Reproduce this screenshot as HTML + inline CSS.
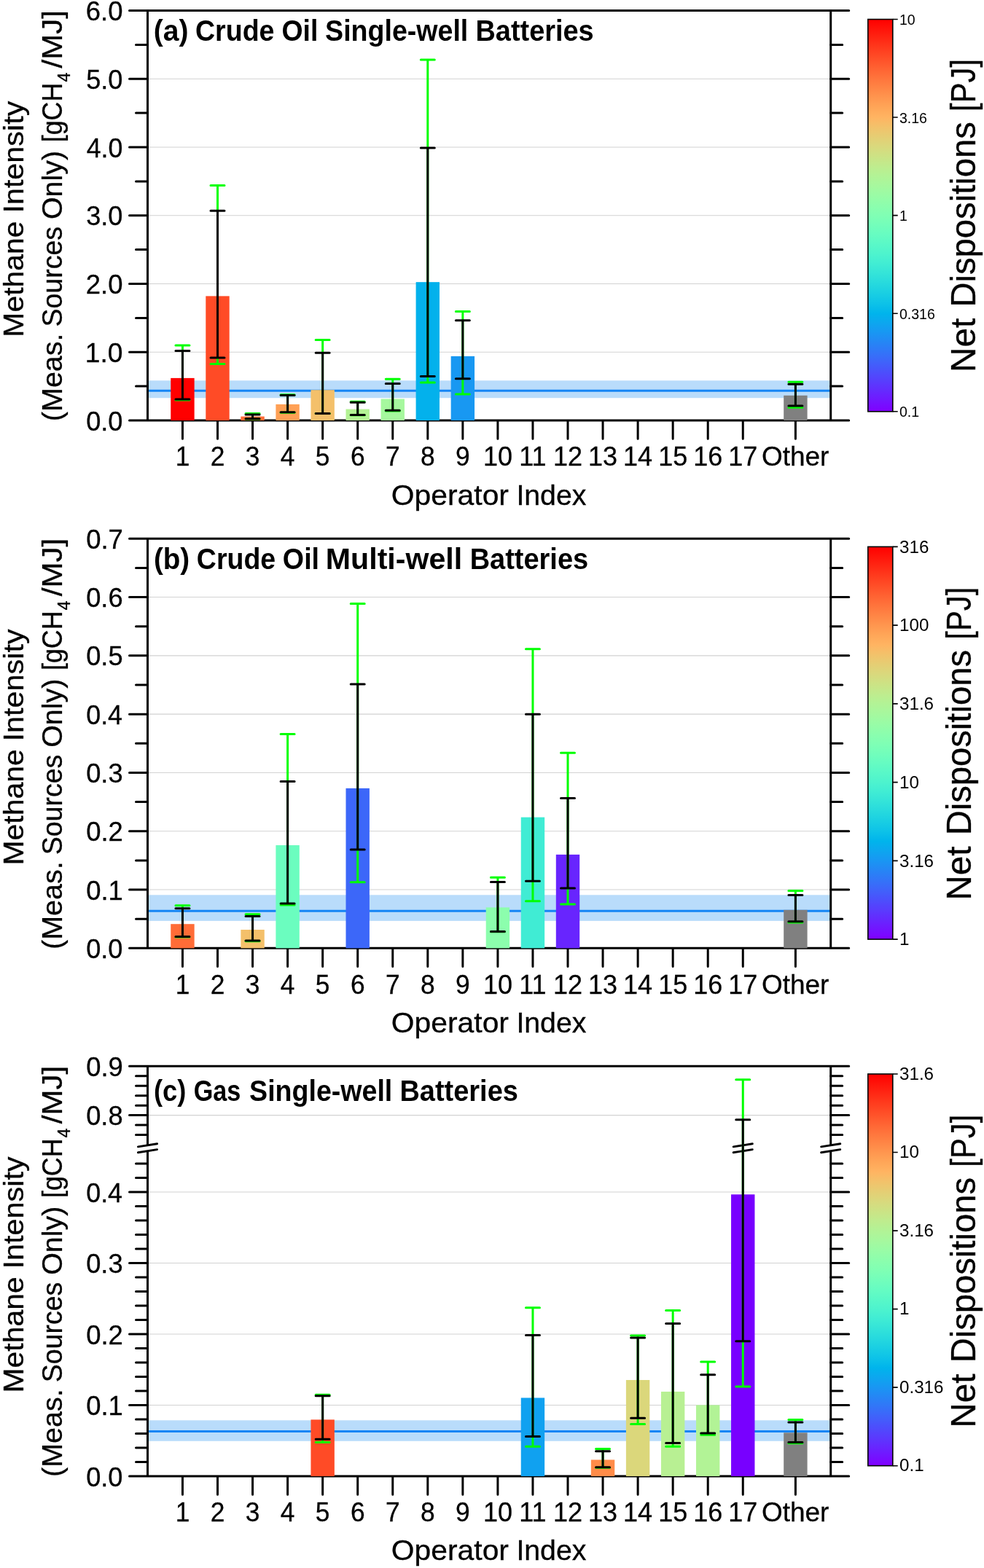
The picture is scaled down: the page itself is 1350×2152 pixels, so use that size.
<!DOCTYPE html>
<html><head><meta charset="utf-8"><title>Methane intensity by operator</title>
<style>html,body{margin:0;padding:0;background:#fff}svg{display:block}</style></head>
<body><svg width="1350" height="2152" viewBox="0 0 1350 2152">
<rect width="1350" height="2152" fill="#fff"/>
<defs><linearGradient id="rb" x1="0" y1="1" x2="0" y2="0">
<stop offset="0.0000" stop-color="#8000ff"/>
<stop offset="0.0250" stop-color="#7314ff"/>
<stop offset="0.0500" stop-color="#6628fe"/>
<stop offset="0.0750" stop-color="#593cfd"/>
<stop offset="0.1000" stop-color="#4c4ffc"/>
<stop offset="0.1250" stop-color="#4062fa"/>
<stop offset="0.1500" stop-color="#3374f8"/>
<stop offset="0.1750" stop-color="#2685f5"/>
<stop offset="0.2000" stop-color="#1996f3"/>
<stop offset="0.2250" stop-color="#0da6ef"/>
<stop offset="0.2500" stop-color="#00b4ec"/>
<stop offset="0.2750" stop-color="#0dc2e8"/>
<stop offset="0.3000" stop-color="#19cee3"/>
<stop offset="0.3250" stop-color="#26d9de"/>
<stop offset="0.3500" stop-color="#33e3d9"/>
<stop offset="0.3750" stop-color="#40ecd4"/>
<stop offset="0.4000" stop-color="#4df3ce"/>
<stop offset="0.4250" stop-color="#59f8c8"/>
<stop offset="0.4500" stop-color="#66fcc2"/>
<stop offset="0.4750" stop-color="#73febb"/>
<stop offset="0.5000" stop-color="#80ffb4"/>
<stop offset="0.5250" stop-color="#8cfead"/>
<stop offset="0.5500" stop-color="#99fca6"/>
<stop offset="0.5750" stop-color="#a6f89e"/>
<stop offset="0.6000" stop-color="#b2f396"/>
<stop offset="0.6250" stop-color="#bfec8e"/>
<stop offset="0.6500" stop-color="#cce385"/>
<stop offset="0.6750" stop-color="#d9d97d"/>
<stop offset="0.7000" stop-color="#e5ce74"/>
<stop offset="0.7250" stop-color="#f2c26b"/>
<stop offset="0.7500" stop-color="#ffb462"/>
<stop offset="0.7750" stop-color="#ffa658"/>
<stop offset="0.8000" stop-color="#ff964f"/>
<stop offset="0.8250" stop-color="#ff8545"/>
<stop offset="0.8500" stop-color="#ff743c"/>
<stop offset="0.8750" stop-color="#ff6232"/>
<stop offset="0.9000" stop-color="#ff4f28"/>
<stop offset="0.9250" stop-color="#ff3c1e"/>
<stop offset="0.9500" stop-color="#ff2814"/>
<stop offset="0.9750" stop-color="#ff140a"/>
<stop offset="1.0000" stop-color="#ff0000"/>
</linearGradient></defs>
<line x1="202.5" y1="483.25" x2="1139.7" y2="483.25" stroke="#d2d2d2" stroke-width="1.1"/>
<line x1="202.5" y1="389.5" x2="1139.7" y2="389.5" stroke="#d2d2d2" stroke-width="1.1"/>
<line x1="202.5" y1="295.75" x2="1139.7" y2="295.75" stroke="#d2d2d2" stroke-width="1.1"/>
<line x1="202.5" y1="202" x2="1139.7" y2="202" stroke="#d2d2d2" stroke-width="1.1"/>
<line x1="202.5" y1="108.25" x2="1139.7" y2="108.25" stroke="#d2d2d2" stroke-width="1.1"/>
<rect x="202.5" y="522.3" width="937.2" height="23.9" fill="#b9dcfb"/>
<line x1="202.5" y1="536.2" x2="1139.7" y2="536.2" stroke="#1585f5" stroke-width="3"/>
<path d="M202.5 14.5V577M1139.7 14.5V577" stroke="#000" stroke-width="3" fill="none"/>
<path d="M177.5 577H1164.7M177.5 483.25H202.5M1139.7 483.25H1164.7M177.5 389.5H202.5M1139.7 389.5H1164.7M177.5 295.75H202.5M1139.7 295.75H1164.7M177.5 202H202.5M1139.7 202H1164.7M177.5 108.25H202.5M1139.7 108.25H1164.7M177.5 14.5H1164.7M186.5 530.12H202.5M1139.7 530.12H1155.7M186.5 436.38H202.5M1139.7 436.38H1155.7M186.5 342.62H202.5M1139.7 342.62H1155.7M186.5 248.88H202.5M1139.7 248.88H1155.7M186.5 155.12H202.5M1139.7 155.12H1155.7M186.5 61.38H202.5M1139.7 61.38H1155.7M250.45 577V602.3M298.5 577V602.3M346.55 577V602.3M394.6 577V602.3M442.65 577V602.3M490.7 577V602.3M538.75 577V602.3M586.8 577V602.3M634.85 577V602.3M682.9 577V602.3M730.95 577V602.3M779 577V602.3M827.05 577V602.3M875.1 577V602.3M923.15 577V602.3M971.2 577V602.3M1019.25 577V602.3M1091.4 577V602.3" stroke="#000" stroke-width="3" stroke-linecap="round" fill="none"/>
<rect x="234.25" y="518.88" width="32.4" height="58.12" fill="#ff0000"/>
<rect x="282.3" y="406.38" width="32.4" height="170.62" fill="#ff4b26"/>
<rect x="330.35" y="571.56" width="32.4" height="5.44" fill="#ff6c37"/>
<rect x="378.4" y="554.88" width="32.4" height="22.12" fill="#ffa055"/>
<rect x="426.45" y="535.19" width="32.4" height="41.81" fill="#f4c06a"/>
<rect x="474.5" y="561.53" width="32.4" height="15.47" fill="#b4f295"/>
<rect x="522.55" y="547.56" width="32.4" height="29.44" fill="#a6f89e"/>
<rect x="570.6" y="387.16" width="32.4" height="189.84" fill="#03b1ec"/>
<rect x="618.65" y="488.88" width="32.4" height="88.12" fill="#1898f2"/>
<rect x="1075.2" y="542.78" width="32.4" height="34.22" fill="#808080"/>
<path d="M250.45 548.88V473.88M240.95 548.88H259.95M240.95 473.88H259.95" stroke="#00ff00" stroke-width="3" stroke-linecap="round" fill="none"/>
<path d="M250.45 547.94V481.38M240.95 547.94H259.95M240.95 481.38H259.95" stroke="#000" stroke-width="3" stroke-linecap="round" fill="none"/>
<path d="M298.5 499.56V254.5M289 499.56H308M289 254.5H308" stroke="#00ff00" stroke-width="3" stroke-linecap="round" fill="none"/>
<path d="M298.5 491.03V289.19M289 491.03H308M289 289.19H308" stroke="#000" stroke-width="3" stroke-linecap="round" fill="none"/>
<path d="M346.55 574.94V567.62M337.05 574.94H356.05M337.05 567.62H356.05" stroke="#00ff00" stroke-width="3" stroke-linecap="round" fill="none"/>
<path d="M346.55 574.66V568.94M337.05 574.66H356.05M337.05 568.94H356.05" stroke="#000" stroke-width="3" stroke-linecap="round" fill="none"/>
<path d="M394.6 566.22V541.84M385.1 566.22H404.1M385.1 541.84H404.1" stroke="#00ff00" stroke-width="3" stroke-linecap="round" fill="none"/>
<path d="M394.6 565.75V542.59M385.1 565.75H404.1M385.1 542.59H404.1" stroke="#000" stroke-width="3" stroke-linecap="round" fill="none"/>
<path d="M442.65 567.62V466.38M433.15 567.62H452.15M433.15 466.38H452.15" stroke="#00ff00" stroke-width="3" stroke-linecap="round" fill="none"/>
<path d="M442.65 567.62V484.19M433.15 567.62H452.15M433.15 484.19H452.15" stroke="#000" stroke-width="3" stroke-linecap="round" fill="none"/>
<path d="M490.7 569.69V551.22M481.2 569.69H500.2M481.2 551.22H500.2" stroke="#00ff00" stroke-width="3" stroke-linecap="round" fill="none"/>
<path d="M490.7 569.5V552.16M481.2 569.5H500.2M481.2 552.16H500.2" stroke="#000" stroke-width="3" stroke-linecap="round" fill="none"/>
<path d="M538.75 563.88V520.19M529.25 563.88H548.25M529.25 520.19H548.25" stroke="#00ff00" stroke-width="3" stroke-linecap="round" fill="none"/>
<path d="M538.75 563.31V526.56M529.25 563.31H548.25M529.25 526.56H548.25" stroke="#000" stroke-width="3" stroke-linecap="round" fill="none"/>
<path d="M586.8 524.88V82M577.3 524.88H596.3M577.3 82H596.3" stroke="#00ff00" stroke-width="3" stroke-linecap="round" fill="none"/>
<path d="M586.8 516.62V202.94M577.3 516.62H596.3M577.3 202.94H596.3" stroke="#000" stroke-width="3" stroke-linecap="round" fill="none"/>
<path d="M634.85 540.91V427.38M625.35 540.91H644.35M625.35 427.38H644.35" stroke="#00ff00" stroke-width="3" stroke-linecap="round" fill="none"/>
<path d="M634.85 519.81V439.84M625.35 519.81H644.35M625.35 439.84H644.35" stroke="#000" stroke-width="3" stroke-linecap="round" fill="none"/>
<path d="M1091.4 559.19V524.22M1081.9 559.19H1100.9M1081.9 524.22H1100.9" stroke="#00ff00" stroke-width="3" stroke-linecap="round" fill="none"/>
<path d="M1091.4 556.94V527.31M1081.9 556.94H1100.9M1081.9 527.31H1100.9" stroke="#000" stroke-width="3" stroke-linecap="round" fill="none"/>
<text font-family="Liberation Sans, sans-serif" stroke="#000" stroke-width="0.3" font-size="37.2"><tspan x="118.19" y="590.50" textLength="50.22" lengthAdjust="spacingAndGlyphs">0.0</tspan></text>
<text font-family="Liberation Sans, sans-serif" stroke="#000" stroke-width="0.3" font-size="37.2"><tspan x="116.77" y="496.75" textLength="51.68" lengthAdjust="spacingAndGlyphs">1.0</tspan></text>
<text font-family="Liberation Sans, sans-serif" stroke="#000" stroke-width="0.3" font-size="37.2"><tspan x="117.77" y="403.00" textLength="50.66" lengthAdjust="spacingAndGlyphs">2.0</tspan></text>
<text font-family="Liberation Sans, sans-serif" stroke="#000" stroke-width="0.3" font-size="37.2"><tspan x="118.23" y="309.25" textLength="50.19" lengthAdjust="spacingAndGlyphs">3.0</tspan></text>
<text font-family="Liberation Sans, sans-serif" stroke="#000" stroke-width="0.3" font-size="37.2"><tspan x="118.78" y="215.50" textLength="49.61" lengthAdjust="spacingAndGlyphs">4.0</tspan></text>
<text font-family="Liberation Sans, sans-serif" stroke="#000" stroke-width="0.3" font-size="37.2"><tspan x="118.15" y="121.75" textLength="50.26" lengthAdjust="spacingAndGlyphs">5.0</tspan></text>
<text font-family="Liberation Sans, sans-serif" stroke="#000" stroke-width="0.3" font-size="37.2"><tspan x="117.75" y="28.00" textLength="50.68" lengthAdjust="spacingAndGlyphs">6.0</tspan></text>
<text x="250.45" y="639.3" text-anchor="middle" font-family="Liberation Sans, sans-serif" font-size="37.2" textLength="19.65" lengthAdjust="spacingAndGlyphs" stroke="#000" stroke-width="0.3">1</text>
<text x="298.5" y="639.3" text-anchor="middle" font-family="Liberation Sans, sans-serif" font-size="37.2" textLength="19.65" lengthAdjust="spacingAndGlyphs" stroke="#000" stroke-width="0.3">2</text>
<text x="346.55" y="639.3" text-anchor="middle" font-family="Liberation Sans, sans-serif" font-size="37.2" textLength="19.65" lengthAdjust="spacingAndGlyphs" stroke="#000" stroke-width="0.3">3</text>
<text x="394.6" y="639.3" text-anchor="middle" font-family="Liberation Sans, sans-serif" font-size="37.2" textLength="19.65" lengthAdjust="spacingAndGlyphs" stroke="#000" stroke-width="0.3">4</text>
<text x="442.65" y="639.3" text-anchor="middle" font-family="Liberation Sans, sans-serif" font-size="37.2" textLength="19.65" lengthAdjust="spacingAndGlyphs" stroke="#000" stroke-width="0.3">5</text>
<text x="490.7" y="639.3" text-anchor="middle" font-family="Liberation Sans, sans-serif" font-size="37.2" textLength="19.65" lengthAdjust="spacingAndGlyphs" stroke="#000" stroke-width="0.3">6</text>
<text x="538.75" y="639.3" text-anchor="middle" font-family="Liberation Sans, sans-serif" font-size="37.2" textLength="19.65" lengthAdjust="spacingAndGlyphs" stroke="#000" stroke-width="0.3">7</text>
<text x="586.8" y="639.3" text-anchor="middle" font-family="Liberation Sans, sans-serif" font-size="37.2" textLength="19.65" lengthAdjust="spacingAndGlyphs" stroke="#000" stroke-width="0.3">8</text>
<text x="634.85" y="639.3" text-anchor="middle" font-family="Liberation Sans, sans-serif" font-size="37.2" textLength="19.65" lengthAdjust="spacingAndGlyphs" stroke="#000" stroke-width="0.3">9</text>
<text x="682.9" y="639.3" text-anchor="middle" font-family="Liberation Sans, sans-serif" font-size="37.2" textLength="40.05" lengthAdjust="spacingAndGlyphs" stroke="#000" stroke-width="0.3">10</text>
<text x="730.95" y="639.3" text-anchor="middle" font-family="Liberation Sans, sans-serif" font-size="37.2" textLength="37.38" lengthAdjust="spacingAndGlyphs" stroke="#000" stroke-width="0.3">11</text>
<text x="779" y="639.3" text-anchor="middle" font-family="Liberation Sans, sans-serif" font-size="37.2" textLength="40.05" lengthAdjust="spacingAndGlyphs" stroke="#000" stroke-width="0.3">12</text>
<text x="827.05" y="639.3" text-anchor="middle" font-family="Liberation Sans, sans-serif" font-size="37.2" textLength="40.05" lengthAdjust="spacingAndGlyphs" stroke="#000" stroke-width="0.3">13</text>
<text x="875.1" y="639.3" text-anchor="middle" font-family="Liberation Sans, sans-serif" font-size="37.2" textLength="40.05" lengthAdjust="spacingAndGlyphs" stroke="#000" stroke-width="0.3">14</text>
<text x="923.15" y="639.3" text-anchor="middle" font-family="Liberation Sans, sans-serif" font-size="37.2" textLength="40.05" lengthAdjust="spacingAndGlyphs" stroke="#000" stroke-width="0.3">15</text>
<text x="971.2" y="639.3" text-anchor="middle" font-family="Liberation Sans, sans-serif" font-size="37.2" textLength="40.05" lengthAdjust="spacingAndGlyphs" stroke="#000" stroke-width="0.3">16</text>
<text x="1019.25" y="639.3" text-anchor="middle" font-family="Liberation Sans, sans-serif" font-size="37.2" textLength="40.05" lengthAdjust="spacingAndGlyphs" stroke="#000" stroke-width="0.3">17</text>
<text font-family="Liberation Sans, sans-serif" stroke="#000" stroke-width="0.3" font-size="37.2"><tspan x="1044.95" y="639.30" textLength="92.46" lengthAdjust="spacingAndGlyphs">Other</tspan></text>
<text font-family="Liberation Sans, sans-serif" stroke="#000" stroke-width="0.3" font-size="39.3"><tspan x="536.77" y="692.80" textLength="161.21" lengthAdjust="spacingAndGlyphs">Operator</tspan> <tspan x="708.38" y="692.80" textLength="96.05" lengthAdjust="spacingAndGlyphs">Index</tspan></text>
<text font-family="Liberation Sans, sans-serif" font-weight="bold" font-size="40.4"><tspan x="210.85" y="56.30" textLength="47.80" lengthAdjust="spacingAndGlyphs">(a)</tspan> <tspan x="267.96" y="56.30" textLength="108.52" lengthAdjust="spacingAndGlyphs">Crude</tspan> <tspan x="386.47" y="56.30" textLength="49.88" lengthAdjust="spacingAndGlyphs">Oil</tspan> <tspan x="446.12" y="56.30" textLength="196.14" lengthAdjust="spacingAndGlyphs">Single-well</tspan> <tspan x="652.46" y="56.30" textLength="162.19" lengthAdjust="spacingAndGlyphs">Batteries</tspan></text>
<text transform="translate(32.40 0) rotate(-90)" font-family="Liberation Sans, sans-serif" stroke="#000" stroke-width="0.3" font-size="39.3"><tspan x="-462.65" y="0.00" textLength="159.07" lengthAdjust="spacingAndGlyphs">Methane</tspan> <tspan x="-292.62" y="0.00" textLength="154.00" lengthAdjust="spacingAndGlyphs">Intensity</tspan></text>
<text transform="translate(85.00 0) rotate(-90)" font-family="Liberation Sans, sans-serif" stroke="#000" stroke-width="0.3" font-size="39.3"><tspan x="-578.15" y="0.00" textLength="120.65" lengthAdjust="spacingAndGlyphs">(Meas.</tspan> <tspan x="-448.50" y="0.00" textLength="137.56" lengthAdjust="spacingAndGlyphs">Sources</tspan> <tspan x="-301.07" y="0.00" textLength="94.21" lengthAdjust="spacingAndGlyphs">Only)</tspan> <tspan x="-195.25" y="0.00" textLength="81.57" lengthAdjust="spacingAndGlyphs">[gCH</tspan><tspan x="-112.63" y="11.00" font-size="23" textLength="12.91" lengthAdjust="spacingAndGlyphs">4</tspan><tspan x="-93.40" y="0.00" textLength="79.40" lengthAdjust="spacingAndGlyphs">/MJ]</tspan></text>
<rect x="1190.8" y="26.5" width="34.0" height="538.3" fill="url(#rb)" stroke="#000" stroke-width="1.6"/>
<text x="1234" y="34.18" font-family="Liberation Sans, sans-serif" font-size="19.5">10</text>
<text x="1234" y="168.76" font-family="Liberation Sans, sans-serif" font-size="19.5">3.16</text>
<text x="1234" y="303.33" font-family="Liberation Sans, sans-serif" font-size="19.5">1</text>
<text x="1234" y="437.91" font-family="Liberation Sans, sans-serif" font-size="19.5">0.316</text>
<text x="1234" y="572.48" font-family="Liberation Sans, sans-serif" font-size="19.5">0.1</text>
<path d="M1224.8 26.5H1231.7M1224.8 161.07H1231.7M1224.8 295.65H1231.7M1224.8 430.22H1231.7M1224.8 564.8H1231.7" stroke="#000" stroke-width="1.6" fill="none"/>
<text transform="translate(1338.00 0) rotate(-90)" font-family="Liberation Sans, sans-serif" stroke="#000" stroke-width="0.3" font-size="47.3"><tspan x="-510.91" y="0.00" textLength="74.26" lengthAdjust="spacingAndGlyphs">Net</tspan> <tspan x="-421.57" y="0.00" textLength="254.38" lengthAdjust="spacingAndGlyphs">Dispositions</tspan> <tspan x="-152.88" y="0.00" textLength="71.96" lengthAdjust="spacingAndGlyphs">[PJ]</tspan></text>
<line x1="202.5" y1="1221.05" x2="1139.7" y2="1221.05" stroke="#d2d2d2" stroke-width="1.1"/>
<line x1="202.5" y1="1140.75" x2="1139.7" y2="1140.75" stroke="#d2d2d2" stroke-width="1.1"/>
<line x1="202.5" y1="1060.45" x2="1139.7" y2="1060.45" stroke="#d2d2d2" stroke-width="1.1"/>
<line x1="202.5" y1="980.15" x2="1139.7" y2="980.15" stroke="#d2d2d2" stroke-width="1.1"/>
<line x1="202.5" y1="899.85" x2="1139.7" y2="899.85" stroke="#d2d2d2" stroke-width="1.1"/>
<line x1="202.5" y1="819.55" x2="1139.7" y2="819.55" stroke="#d2d2d2" stroke-width="1.1"/>
<rect x="202.5" y="1228.3" width="937.2" height="35.6" fill="#b9dcfb"/>
<line x1="202.5" y1="1250.2" x2="1139.7" y2="1250.2" stroke="#1585f5" stroke-width="3"/>
<path d="M202.5 739.3V1301.3M1139.7 739.3V1301.3" stroke="#000" stroke-width="3" fill="none"/>
<path d="M177.5 1301.35H1164.7M177.5 1221.05H202.5M1139.7 1221.05H1164.7M177.5 1140.75H202.5M1139.7 1140.75H1164.7M177.5 1060.45H202.5M1139.7 1060.45H1164.7M177.5 980.15H202.5M1139.7 980.15H1164.7M177.5 899.85H202.5M1139.7 899.85H1164.7M177.5 819.55H202.5M1139.7 819.55H1164.7M177.5 739.25H1164.7M186.5 1261.2H202.5M1139.7 1261.2H1155.7M186.5 1180.9H202.5M1139.7 1180.9H1155.7M186.5 1100.6H202.5M1139.7 1100.6H1155.7M186.5 1020.3H202.5M1139.7 1020.3H1155.7M186.5 940H202.5M1139.7 940H1155.7M186.5 859.7H202.5M1139.7 859.7H1155.7M186.5 779.4H202.5M1139.7 779.4H1155.7M250.45 1301.3V1326.6M298.5 1301.3V1326.6M346.55 1301.3V1326.6M394.6 1301.3V1326.6M442.65 1301.3V1326.6M490.7 1301.3V1326.6M538.75 1301.3V1326.6M586.8 1301.3V1326.6M634.85 1301.3V1326.6M682.9 1301.3V1326.6M730.95 1301.3V1326.6M779 1301.3V1326.6M827.05 1301.3V1326.6M875.1 1301.3V1326.6M923.15 1301.3V1326.6M971.2 1301.3V1326.6M1019.25 1301.3V1326.6M1091.4 1301.3V1326.6" stroke="#000" stroke-width="3" stroke-linecap="round" fill="none"/>
<rect x="234.25" y="1268.19" width="32.4" height="33.11" fill="#ff6c37"/>
<rect x="330.35" y="1275.98" width="32.4" height="25.32" fill="#f4c06a"/>
<rect x="378.4" y="1160.02" width="32.4" height="141.28" fill="#6bfdbf"/>
<rect x="474.5" y="1081.89" width="32.4" height="219.41" fill="#3c67f9"/>
<rect x="666.7" y="1245.38" width="32.4" height="55.92" fill="#8cfead"/>
<rect x="714.75" y="1121.64" width="32.4" height="179.66" fill="#40ecd4"/>
<rect x="762.8" y="1172.87" width="32.4" height="128.43" fill="#6825fe"/>
<rect x="1075.2" y="1248.83" width="32.4" height="52.47" fill="#808080"/>
<path d="M250.45 1286.09V1242.73M240.95 1286.09H259.95M240.95 1242.73H259.95" stroke="#00ff00" stroke-width="3" stroke-linecap="round" fill="none"/>
<path d="M250.45 1285.53V1246.75M240.95 1285.53H259.95M240.95 1246.75H259.95" stroke="#000" stroke-width="3" stroke-linecap="round" fill="none"/>
<path d="M346.55 1291.71V1254.78M337.05 1291.71H356.05M337.05 1254.78H356.05" stroke="#00ff00" stroke-width="3" stroke-linecap="round" fill="none"/>
<path d="M346.55 1290.91V1257.43M337.05 1290.91H356.05M337.05 1257.43H356.05" stroke="#000" stroke-width="3" stroke-linecap="round" fill="none"/>
<path d="M394.6 1241.93V1007.45M385.1 1241.93H404.1M385.1 1007.45H404.1" stroke="#00ff00" stroke-width="3" stroke-linecap="round" fill="none"/>
<path d="M394.6 1240.08V1072.49M385.1 1240.08H404.1M385.1 1072.49H404.1" stroke="#000" stroke-width="3" stroke-linecap="round" fill="none"/>
<path d="M490.7 1210.85V828.38M481.2 1210.85H500.2M481.2 828.38H500.2" stroke="#00ff00" stroke-width="3" stroke-linecap="round" fill="none"/>
<path d="M490.7 1166.04V938.88M481.2 1166.04H500.2M481.2 938.88H500.2" stroke="#000" stroke-width="3" stroke-linecap="round" fill="none"/>
<path d="M682.9 1278.87V1204.19M673.4 1278.87H692.4M673.4 1204.19H692.4" stroke="#00ff00" stroke-width="3" stroke-linecap="round" fill="none"/>
<path d="M682.9 1278.46V1210.61M673.4 1278.46H692.4M673.4 1210.61H692.4" stroke="#000" stroke-width="3" stroke-linecap="round" fill="none"/>
<path d="M730.95 1236.87V890.86M721.45 1236.87H740.45M721.45 890.86H740.45" stroke="#00ff00" stroke-width="3" stroke-linecap="round" fill="none"/>
<path d="M730.95 1209.25V980.15M721.45 1209.25H740.45M721.45 980.15H740.45" stroke="#000" stroke-width="3" stroke-linecap="round" fill="none"/>
<path d="M779 1240.88V1033.15M769.5 1240.88H788.5M769.5 1033.15H788.5" stroke="#00ff00" stroke-width="3" stroke-linecap="round" fill="none"/>
<path d="M779 1218.88V1095.62M769.5 1218.88H788.5M769.5 1095.62H788.5" stroke="#000" stroke-width="3" stroke-linecap="round" fill="none"/>
<path d="M1091.4 1266.02V1222.42M1081.9 1266.02H1100.9M1081.9 1222.42H1100.9" stroke="#00ff00" stroke-width="3" stroke-linecap="round" fill="none"/>
<path d="M1091.4 1264.81V1228.44M1081.9 1264.81H1100.9M1081.9 1228.44H1100.9" stroke="#000" stroke-width="3" stroke-linecap="round" fill="none"/>
<text font-family="Liberation Sans, sans-serif" stroke="#000" stroke-width="0.3" font-size="37.2"><tspan x="118.19" y="1314.85" textLength="50.22" lengthAdjust="spacingAndGlyphs">0.0</tspan></text>
<text font-family="Liberation Sans, sans-serif" stroke="#000" stroke-width="0.3" font-size="37.2"><tspan x="118.18" y="1234.55" textLength="50.60" lengthAdjust="spacingAndGlyphs">0.1</tspan></text>
<text font-family="Liberation Sans, sans-serif" stroke="#000" stroke-width="0.3" font-size="37.2"><tspan x="118.18" y="1154.25" textLength="50.66" lengthAdjust="spacingAndGlyphs">0.2</tspan></text>
<text font-family="Liberation Sans, sans-serif" stroke="#000" stroke-width="0.3" font-size="37.2"><tspan x="118.18" y="1073.95" textLength="50.41" lengthAdjust="spacingAndGlyphs">0.3</tspan></text>
<text font-family="Liberation Sans, sans-serif" stroke="#000" stroke-width="0.3" font-size="37.2"><tspan x="118.20" y="993.65" textLength="49.85" lengthAdjust="spacingAndGlyphs">0.4</tspan></text>
<text font-family="Liberation Sans, sans-serif" stroke="#000" stroke-width="0.3" font-size="37.2"><tspan x="118.19" y="913.35" textLength="50.33" lengthAdjust="spacingAndGlyphs">0.5</tspan></text>
<text font-family="Liberation Sans, sans-serif" stroke="#000" stroke-width="0.3" font-size="37.2"><tspan x="118.18" y="833.05" textLength="50.41" lengthAdjust="spacingAndGlyphs">0.6</tspan></text>
<text font-family="Liberation Sans, sans-serif" stroke="#000" stroke-width="0.3" font-size="37.2"><tspan x="118.18" y="752.75" textLength="50.66" lengthAdjust="spacingAndGlyphs">0.7</tspan></text>
<text x="250.45" y="1363.6" text-anchor="middle" font-family="Liberation Sans, sans-serif" font-size="37.2" textLength="19.65" lengthAdjust="spacingAndGlyphs" stroke="#000" stroke-width="0.3">1</text>
<text x="298.5" y="1363.6" text-anchor="middle" font-family="Liberation Sans, sans-serif" font-size="37.2" textLength="19.65" lengthAdjust="spacingAndGlyphs" stroke="#000" stroke-width="0.3">2</text>
<text x="346.55" y="1363.6" text-anchor="middle" font-family="Liberation Sans, sans-serif" font-size="37.2" textLength="19.65" lengthAdjust="spacingAndGlyphs" stroke="#000" stroke-width="0.3">3</text>
<text x="394.6" y="1363.6" text-anchor="middle" font-family="Liberation Sans, sans-serif" font-size="37.2" textLength="19.65" lengthAdjust="spacingAndGlyphs" stroke="#000" stroke-width="0.3">4</text>
<text x="442.65" y="1363.6" text-anchor="middle" font-family="Liberation Sans, sans-serif" font-size="37.2" textLength="19.65" lengthAdjust="spacingAndGlyphs" stroke="#000" stroke-width="0.3">5</text>
<text x="490.7" y="1363.6" text-anchor="middle" font-family="Liberation Sans, sans-serif" font-size="37.2" textLength="19.65" lengthAdjust="spacingAndGlyphs" stroke="#000" stroke-width="0.3">6</text>
<text x="538.75" y="1363.6" text-anchor="middle" font-family="Liberation Sans, sans-serif" font-size="37.2" textLength="19.65" lengthAdjust="spacingAndGlyphs" stroke="#000" stroke-width="0.3">7</text>
<text x="586.8" y="1363.6" text-anchor="middle" font-family="Liberation Sans, sans-serif" font-size="37.2" textLength="19.65" lengthAdjust="spacingAndGlyphs" stroke="#000" stroke-width="0.3">8</text>
<text x="634.85" y="1363.6" text-anchor="middle" font-family="Liberation Sans, sans-serif" font-size="37.2" textLength="19.65" lengthAdjust="spacingAndGlyphs" stroke="#000" stroke-width="0.3">9</text>
<text x="682.9" y="1363.6" text-anchor="middle" font-family="Liberation Sans, sans-serif" font-size="37.2" textLength="40.05" lengthAdjust="spacingAndGlyphs" stroke="#000" stroke-width="0.3">10</text>
<text x="730.95" y="1363.6" text-anchor="middle" font-family="Liberation Sans, sans-serif" font-size="37.2" textLength="37.38" lengthAdjust="spacingAndGlyphs" stroke="#000" stroke-width="0.3">11</text>
<text x="779" y="1363.6" text-anchor="middle" font-family="Liberation Sans, sans-serif" font-size="37.2" textLength="40.05" lengthAdjust="spacingAndGlyphs" stroke="#000" stroke-width="0.3">12</text>
<text x="827.05" y="1363.6" text-anchor="middle" font-family="Liberation Sans, sans-serif" font-size="37.2" textLength="40.05" lengthAdjust="spacingAndGlyphs" stroke="#000" stroke-width="0.3">13</text>
<text x="875.1" y="1363.6" text-anchor="middle" font-family="Liberation Sans, sans-serif" font-size="37.2" textLength="40.05" lengthAdjust="spacingAndGlyphs" stroke="#000" stroke-width="0.3">14</text>
<text x="923.15" y="1363.6" text-anchor="middle" font-family="Liberation Sans, sans-serif" font-size="37.2" textLength="40.05" lengthAdjust="spacingAndGlyphs" stroke="#000" stroke-width="0.3">15</text>
<text x="971.2" y="1363.6" text-anchor="middle" font-family="Liberation Sans, sans-serif" font-size="37.2" textLength="40.05" lengthAdjust="spacingAndGlyphs" stroke="#000" stroke-width="0.3">16</text>
<text x="1019.25" y="1363.6" text-anchor="middle" font-family="Liberation Sans, sans-serif" font-size="37.2" textLength="40.05" lengthAdjust="spacingAndGlyphs" stroke="#000" stroke-width="0.3">17</text>
<text font-family="Liberation Sans, sans-serif" stroke="#000" stroke-width="0.3" font-size="37.2"><tspan x="1044.95" y="1363.60" textLength="92.46" lengthAdjust="spacingAndGlyphs">Other</tspan></text>
<text font-family="Liberation Sans, sans-serif" stroke="#000" stroke-width="0.3" font-size="39.3"><tspan x="536.77" y="1416.50" textLength="161.21" lengthAdjust="spacingAndGlyphs">Operator</tspan> <tspan x="708.38" y="1416.50" textLength="96.05" lengthAdjust="spacingAndGlyphs">Index</tspan></text>
<text font-family="Liberation Sans, sans-serif" font-weight="bold" font-size="40.4"><tspan x="210.88" y="780.60" textLength="49.35" lengthAdjust="spacingAndGlyphs">(b)</tspan> <tspan x="269.86" y="780.60" textLength="108.32" lengthAdjust="spacingAndGlyphs">Crude</tspan> <tspan x="387.86" y="780.60" textLength="50.21" lengthAdjust="spacingAndGlyphs">Oil</tspan> <tspan x="446.85" y="780.60" textLength="187.36" lengthAdjust="spacingAndGlyphs">Multi-well</tspan> <tspan x="644.66" y="780.60" textLength="162.50" lengthAdjust="spacingAndGlyphs">Batteries</tspan></text>
<text transform="translate(32.40 0) rotate(-90)" font-family="Liberation Sans, sans-serif" stroke="#000" stroke-width="0.3" font-size="39.3"><tspan x="-1187.45" y="0.00" textLength="159.07" lengthAdjust="spacingAndGlyphs">Methane</tspan> <tspan x="-1017.42" y="0.00" textLength="154.00" lengthAdjust="spacingAndGlyphs">Intensity</tspan></text>
<text transform="translate(85.00 0) rotate(-90)" font-family="Liberation Sans, sans-serif" stroke="#000" stroke-width="0.3" font-size="39.3"><tspan x="-1302.95" y="0.00" textLength="120.65" lengthAdjust="spacingAndGlyphs">(Meas.</tspan> <tspan x="-1173.30" y="0.00" textLength="137.56" lengthAdjust="spacingAndGlyphs">Sources</tspan> <tspan x="-1025.87" y="0.00" textLength="94.21" lengthAdjust="spacingAndGlyphs">Only)</tspan> <tspan x="-920.05" y="0.00" textLength="81.57" lengthAdjust="spacingAndGlyphs">[gCH</tspan><tspan x="-837.43" y="11.00" font-size="23" textLength="12.91" lengthAdjust="spacingAndGlyphs">4</tspan><tspan x="-818.20" y="0.00" textLength="79.40" lengthAdjust="spacingAndGlyphs">/MJ]</tspan></text>
<rect x="1190.8" y="750.4" width="34.0" height="538.7" fill="url(#rb)" stroke="#000" stroke-width="1.6"/>
<text x="1234" y="758.66" font-family="Liberation Sans, sans-serif" font-size="24.2">316</text>
<text x="1234" y="866.4" font-family="Liberation Sans, sans-serif" font-size="24.2">100</text>
<text x="1234" y="974.14" font-family="Liberation Sans, sans-serif" font-size="24.2">31.6</text>
<text x="1234" y="1081.88" font-family="Liberation Sans, sans-serif" font-size="24.2">10</text>
<text x="1234" y="1189.62" font-family="Liberation Sans, sans-serif" font-size="24.2">3.16</text>
<text x="1234" y="1297.36" font-family="Liberation Sans, sans-serif" font-size="24.2">1</text>
<path d="M1224.8 750.4H1231.7M1224.8 858.14H1231.7M1224.8 965.88H1231.7M1224.8 1073.62H1231.7M1224.8 1181.36H1231.7M1224.8 1289.1H1231.7" stroke="#000" stroke-width="1.6" fill="none"/>
<text transform="translate(1332.20 0) rotate(-90)" font-family="Liberation Sans, sans-serif" stroke="#000" stroke-width="0.3" font-size="47.3"><tspan x="-1235.71" y="0.00" textLength="74.26" lengthAdjust="spacingAndGlyphs">Net</tspan> <tspan x="-1146.37" y="0.00" textLength="254.38" lengthAdjust="spacingAndGlyphs">Dispositions</tspan> <tspan x="-877.68" y="0.00" textLength="71.96" lengthAdjust="spacingAndGlyphs">[PJ]</tspan></text>
<line x1="202.5" y1="1928.5" x2="1139.7" y2="1928.5" stroke="#d2d2d2" stroke-width="1.1"/>
<line x1="202.5" y1="1831" x2="1139.7" y2="1831" stroke="#d2d2d2" stroke-width="1.1"/>
<line x1="202.5" y1="1733.5" x2="1139.7" y2="1733.5" stroke="#d2d2d2" stroke-width="1.1"/>
<line x1="202.5" y1="1636" x2="1139.7" y2="1636" stroke="#d2d2d2" stroke-width="1.1"/>
<line x1="202.5" y1="1530.6" x2="1139.7" y2="1530.6" stroke="#d2d2d2" stroke-width="1.1"/>
<rect x="202.5" y="1949.3" width="937.2" height="28.5" fill="#b9dcfb"/>
<line x1="202.5" y1="1964.4" x2="1139.7" y2="1964.4" stroke="#1585f5" stroke-width="3"/>
<path d="M202.5 1463.3V1571.8M202.5 1579.7V2026M1139.7 1463.3V1571.8M1139.7 1579.7V2026" stroke="#000" stroke-width="3" fill="none"/>
<path d="M177.5 2026H1164.7M177.5 1928.5H202.5M1139.7 1928.5H1164.7M177.5 1831H202.5M1139.7 1831H1164.7M177.5 1733.5H202.5M1139.7 1733.5H1164.7M177.5 1636H202.5M1139.7 1636H1164.7M177.5 1530.6H202.5M1139.7 1530.6H1164.7M177.5 1463.3H1164.7M186.5 2006.5H202.5M1139.7 2006.5H1155.7M186.5 1987H202.5M1139.7 1987H1155.7M186.5 1967.5H202.5M1139.7 1967.5H1155.7M186.5 1948H202.5M1139.7 1948H1155.7M186.5 1909H202.5M1139.7 1909H1155.7M186.5 1889.5H202.5M1139.7 1889.5H1155.7M186.5 1870H202.5M1139.7 1870H1155.7M186.5 1850.5H202.5M1139.7 1850.5H1155.7M186.5 1811.5H202.5M1139.7 1811.5H1155.7M186.5 1792H202.5M1139.7 1792H1155.7M186.5 1772.5H202.5M1139.7 1772.5H1155.7M186.5 1753H202.5M1139.7 1753H1155.7M186.5 1714H202.5M1139.7 1714H1155.7M186.5 1694.5H202.5M1139.7 1694.5H1155.7M186.5 1675H202.5M1139.7 1675H1155.7M186.5 1655.5H202.5M1139.7 1655.5H1155.7M186.5 1616.5H202.5M1139.7 1616.5H1155.7M186.5 1597H202.5M1139.7 1597H1155.7M186.5 1557.52H202.5M1139.7 1557.52H1155.7M186.5 1544.06H202.5M1139.7 1544.06H1155.7M186.5 1517.14H202.5M1139.7 1517.14H1155.7M186.5 1503.68H202.5M1139.7 1503.68H1155.7M186.5 1490.22H202.5M1139.7 1490.22H1155.7M186.5 1476.76H202.5M1139.7 1476.76H1155.7M250.45 2026V2051.3M298.5 2026V2051.3M346.55 2026V2051.3M394.6 2026V2051.3M442.65 2026V2051.3M490.7 2026V2051.3M538.75 2026V2051.3M586.8 2026V2051.3M634.85 2026V2051.3M682.9 2026V2051.3M730.95 2026V2051.3M779 2026V2051.3M827.05 2026V2051.3M875.1 2026V2051.3M923.15 2026V2051.3M971.2 2026V2051.3M1019.25 2026V2051.3M1091.4 2026V2051.3" stroke="#000" stroke-width="3" stroke-linecap="round" fill="none"/>
<path d="M189.4 1573.85L215.6 1569.75M189.4 1581.75L215.6 1577.65M1126.6 1573.85L1152.8 1569.75M1126.6 1581.75L1152.8 1577.65M1006.15 1573.85L1032.35 1569.75M1006.15 1581.75L1032.35 1577.65" stroke="#000" stroke-width="2.8" stroke-linecap="round" fill="none"/>
<rect x="426.45" y="1948.39" width="32.4" height="77.61" fill="#ff4b26"/>
<rect x="714.75" y="1918.46" width="32.4" height="107.54" fill="#10a1f0"/>
<rect x="810.85" y="2003.48" width="32.4" height="22.52" fill="#ff8c49"/>
<rect x="858.9" y="1893.99" width="32.4" height="132.01" fill="#dbd77b"/>
<rect x="906.95" y="1909.97" width="32.4" height="116.03" fill="#b8f093"/>
<rect x="955" y="1928.4" width="32.4" height="97.6" fill="#b2f396"/>
<rect x="1003.05" y="1639.32" width="32.4" height="386.68" fill="#7800ff"/>
<rect x="1075.2" y="1966.33" width="32.4" height="59.67" fill="#808080"/>
<path d="M442.65 1979.59V1914.17M433.15 1979.59H452.15M433.15 1914.17H452.15" stroke="#00ff00" stroke-width="3" stroke-linecap="round" fill="none"/>
<path d="M442.65 1975.3V1915.63M433.15 1975.3H452.15M433.15 1915.63H452.15" stroke="#000" stroke-width="3" stroke-linecap="round" fill="none"/>
<path d="M730.95 1985.34V1794.73M721.45 1985.34H740.45M721.45 1794.73H740.45" stroke="#00ff00" stroke-width="3" stroke-linecap="round" fill="none"/>
<path d="M730.95 1971.5V1832.46M721.45 1971.5H740.45M721.45 1832.46H740.45" stroke="#000" stroke-width="3" stroke-linecap="round" fill="none"/>
<path d="M827.05 2014.3V1988.46M817.55 2014.3H836.55M817.55 1988.46H836.55" stroke="#00ff00" stroke-width="3" stroke-linecap="round" fill="none"/>
<path d="M827.05 2013.81V1991.68M817.55 2013.81H836.55M817.55 1991.68H836.55" stroke="#000" stroke-width="3" stroke-linecap="round" fill="none"/>
<path d="M875.1 1954.43V1832.95M865.6 1954.43H884.6M865.6 1832.95H884.6" stroke="#00ff00" stroke-width="3" stroke-linecap="round" fill="none"/>
<path d="M875.1 1946.24V1835.97M865.6 1946.24H884.6M865.6 1835.97H884.6" stroke="#000" stroke-width="3" stroke-linecap="round" fill="none"/>
<path d="M923.15 1985.24V1798.43M913.65 1985.24H932.65M913.65 1798.43H932.65" stroke="#00ff00" stroke-width="3" stroke-linecap="round" fill="none"/>
<path d="M923.15 1980.57V1816.57M913.65 1980.57H932.65M913.65 1816.57H932.65" stroke="#000" stroke-width="3" stroke-linecap="round" fill="none"/>
<path d="M971.2 1969.16V1869.03M961.7 1969.16H980.7M961.7 1869.03H980.7" stroke="#00ff00" stroke-width="3" stroke-linecap="round" fill="none"/>
<path d="M971.2 1966.91V1886.87M961.7 1966.91H980.7M961.7 1886.87H980.7" stroke="#000" stroke-width="3" stroke-linecap="round" fill="none"/>
<path d="M1019.25 1903.05V1481.7M1009.75 1903.05H1028.75M1009.75 1481.7H1028.75" stroke="#00ff00" stroke-width="3" stroke-linecap="round" fill="none"/>
<path d="M1019.25 1840.85V1536.7M1009.75 1840.85H1028.75M1009.75 1536.7H1028.75" stroke="#000" stroke-width="3" stroke-linecap="round" fill="none"/>
<path d="M1091.4 1980.86V1948.49M1081.9 1980.86H1100.9M1081.9 1948.49H1100.9" stroke="#00ff00" stroke-width="3" stroke-linecap="round" fill="none"/>
<path d="M1091.4 1979.39V1952.1M1081.9 1979.39H1100.9M1081.9 1952.1H1100.9" stroke="#000" stroke-width="3" stroke-linecap="round" fill="none"/>
<text font-family="Liberation Sans, sans-serif" stroke="#000" stroke-width="0.3" font-size="37.2"><tspan x="118.19" y="2039.50" textLength="50.22" lengthAdjust="spacingAndGlyphs">0.0</tspan></text>
<text font-family="Liberation Sans, sans-serif" stroke="#000" stroke-width="0.3" font-size="37.2"><tspan x="118.18" y="1942.00" textLength="50.60" lengthAdjust="spacingAndGlyphs">0.1</tspan></text>
<text font-family="Liberation Sans, sans-serif" stroke="#000" stroke-width="0.3" font-size="37.2"><tspan x="118.18" y="1844.50" textLength="50.66" lengthAdjust="spacingAndGlyphs">0.2</tspan></text>
<text font-family="Liberation Sans, sans-serif" stroke="#000" stroke-width="0.3" font-size="37.2"><tspan x="118.18" y="1747.00" textLength="50.41" lengthAdjust="spacingAndGlyphs">0.3</tspan></text>
<text font-family="Liberation Sans, sans-serif" stroke="#000" stroke-width="0.3" font-size="37.2"><tspan x="118.20" y="1649.50" textLength="49.85" lengthAdjust="spacingAndGlyphs">0.4</tspan></text>
<text font-family="Liberation Sans, sans-serif" stroke="#000" stroke-width="0.3" font-size="37.2"><tspan x="118.18" y="1544.10" textLength="50.39" lengthAdjust="spacingAndGlyphs">0.8</tspan></text>
<text font-family="Liberation Sans, sans-serif" stroke="#000" stroke-width="0.3" font-size="37.2"><tspan x="118.18" y="1476.80" textLength="50.54" lengthAdjust="spacingAndGlyphs">0.9</tspan></text>
<text x="250.45" y="2088.3" text-anchor="middle" font-family="Liberation Sans, sans-serif" font-size="37.2" textLength="19.65" lengthAdjust="spacingAndGlyphs" stroke="#000" stroke-width="0.3">1</text>
<text x="298.5" y="2088.3" text-anchor="middle" font-family="Liberation Sans, sans-serif" font-size="37.2" textLength="19.65" lengthAdjust="spacingAndGlyphs" stroke="#000" stroke-width="0.3">2</text>
<text x="346.55" y="2088.3" text-anchor="middle" font-family="Liberation Sans, sans-serif" font-size="37.2" textLength="19.65" lengthAdjust="spacingAndGlyphs" stroke="#000" stroke-width="0.3">3</text>
<text x="394.6" y="2088.3" text-anchor="middle" font-family="Liberation Sans, sans-serif" font-size="37.2" textLength="19.65" lengthAdjust="spacingAndGlyphs" stroke="#000" stroke-width="0.3">4</text>
<text x="442.65" y="2088.3" text-anchor="middle" font-family="Liberation Sans, sans-serif" font-size="37.2" textLength="19.65" lengthAdjust="spacingAndGlyphs" stroke="#000" stroke-width="0.3">5</text>
<text x="490.7" y="2088.3" text-anchor="middle" font-family="Liberation Sans, sans-serif" font-size="37.2" textLength="19.65" lengthAdjust="spacingAndGlyphs" stroke="#000" stroke-width="0.3">6</text>
<text x="538.75" y="2088.3" text-anchor="middle" font-family="Liberation Sans, sans-serif" font-size="37.2" textLength="19.65" lengthAdjust="spacingAndGlyphs" stroke="#000" stroke-width="0.3">7</text>
<text x="586.8" y="2088.3" text-anchor="middle" font-family="Liberation Sans, sans-serif" font-size="37.2" textLength="19.65" lengthAdjust="spacingAndGlyphs" stroke="#000" stroke-width="0.3">8</text>
<text x="634.85" y="2088.3" text-anchor="middle" font-family="Liberation Sans, sans-serif" font-size="37.2" textLength="19.65" lengthAdjust="spacingAndGlyphs" stroke="#000" stroke-width="0.3">9</text>
<text x="682.9" y="2088.3" text-anchor="middle" font-family="Liberation Sans, sans-serif" font-size="37.2" textLength="40.05" lengthAdjust="spacingAndGlyphs" stroke="#000" stroke-width="0.3">10</text>
<text x="730.95" y="2088.3" text-anchor="middle" font-family="Liberation Sans, sans-serif" font-size="37.2" textLength="37.38" lengthAdjust="spacingAndGlyphs" stroke="#000" stroke-width="0.3">11</text>
<text x="779" y="2088.3" text-anchor="middle" font-family="Liberation Sans, sans-serif" font-size="37.2" textLength="40.05" lengthAdjust="spacingAndGlyphs" stroke="#000" stroke-width="0.3">12</text>
<text x="827.05" y="2088.3" text-anchor="middle" font-family="Liberation Sans, sans-serif" font-size="37.2" textLength="40.05" lengthAdjust="spacingAndGlyphs" stroke="#000" stroke-width="0.3">13</text>
<text x="875.1" y="2088.3" text-anchor="middle" font-family="Liberation Sans, sans-serif" font-size="37.2" textLength="40.05" lengthAdjust="spacingAndGlyphs" stroke="#000" stroke-width="0.3">14</text>
<text x="923.15" y="2088.3" text-anchor="middle" font-family="Liberation Sans, sans-serif" font-size="37.2" textLength="40.05" lengthAdjust="spacingAndGlyphs" stroke="#000" stroke-width="0.3">15</text>
<text x="971.2" y="2088.3" text-anchor="middle" font-family="Liberation Sans, sans-serif" font-size="37.2" textLength="40.05" lengthAdjust="spacingAndGlyphs" stroke="#000" stroke-width="0.3">16</text>
<text x="1019.25" y="2088.3" text-anchor="middle" font-family="Liberation Sans, sans-serif" font-size="37.2" textLength="40.05" lengthAdjust="spacingAndGlyphs" stroke="#000" stroke-width="0.3">17</text>
<text font-family="Liberation Sans, sans-serif" stroke="#000" stroke-width="0.3" font-size="37.2"><tspan x="1044.95" y="2088.30" textLength="92.46" lengthAdjust="spacingAndGlyphs">Other</tspan></text>
<text font-family="Liberation Sans, sans-serif" stroke="#000" stroke-width="0.3" font-size="39.3"><tspan x="536.77" y="2141.20" textLength="161.21" lengthAdjust="spacingAndGlyphs">Operator</tspan> <tspan x="708.38" y="2141.20" textLength="96.05" lengthAdjust="spacingAndGlyphs">Index</tspan></text>
<text font-family="Liberation Sans, sans-serif" font-weight="bold" font-size="40.4"><tspan x="210.99" y="1510.80" textLength="44.42" lengthAdjust="spacingAndGlyphs">(c)</tspan> <tspan x="265.70" y="1510.80" textLength="64.71" lengthAdjust="spacingAndGlyphs">Gas</tspan> <tspan x="342.12" y="1510.80" textLength="196.14" lengthAdjust="spacingAndGlyphs">Single-well</tspan> <tspan x="548.46" y="1510.80" textLength="162.39" lengthAdjust="spacingAndGlyphs">Batteries</tspan></text>
<text transform="translate(32.40 0) rotate(-90)" font-family="Liberation Sans, sans-serif" stroke="#000" stroke-width="0.3" font-size="39.3"><tspan x="-1911.45" y="0.00" textLength="159.07" lengthAdjust="spacingAndGlyphs">Methane</tspan> <tspan x="-1741.42" y="0.00" textLength="154.00" lengthAdjust="spacingAndGlyphs">Intensity</tspan></text>
<text transform="translate(85.00 0) rotate(-90)" font-family="Liberation Sans, sans-serif" stroke="#000" stroke-width="0.3" font-size="39.3"><tspan x="-2026.95" y="0.00" textLength="120.65" lengthAdjust="spacingAndGlyphs">(Meas.</tspan> <tspan x="-1897.30" y="0.00" textLength="137.56" lengthAdjust="spacingAndGlyphs">Sources</tspan> <tspan x="-1749.87" y="0.00" textLength="94.21" lengthAdjust="spacingAndGlyphs">Only)</tspan> <tspan x="-1644.05" y="0.00" textLength="81.57" lengthAdjust="spacingAndGlyphs">[gCH</tspan><tspan x="-1561.43" y="11.00" font-size="23" textLength="12.91" lengthAdjust="spacingAndGlyphs">4</tspan><tspan x="-1542.20" y="0.00" textLength="79.40" lengthAdjust="spacingAndGlyphs">/MJ]</tspan></text>
<rect x="1190.8" y="1474" width="34.0" height="537.7" fill="url(#rb)" stroke="#000" stroke-width="1.6"/>
<text x="1234" y="1481.66" font-family="Liberation Sans, sans-serif" font-size="24.2">31.6</text>
<text x="1234" y="1589.2" font-family="Liberation Sans, sans-serif" font-size="24.2">10</text>
<text x="1234" y="1696.74" font-family="Liberation Sans, sans-serif" font-size="24.2">3.16</text>
<text x="1234" y="1804.28" font-family="Liberation Sans, sans-serif" font-size="24.2">1</text>
<text x="1234" y="1911.82" font-family="Liberation Sans, sans-serif" font-size="24.2">0.316</text>
<text x="1234" y="2019.36" font-family="Liberation Sans, sans-serif" font-size="24.2">0.1</text>
<path d="M1224.8 1474H1231.7M1224.8 1581.54H1231.7M1224.8 1689.08H1231.7M1224.8 1796.62H1231.7M1224.8 1904.16H1231.7M1224.8 2011.7H1231.7" stroke="#000" stroke-width="1.6" fill="none"/>
<text transform="translate(1338.00 0) rotate(-90)" font-family="Liberation Sans, sans-serif" stroke="#000" stroke-width="0.3" font-size="47.3"><tspan x="-1959.71" y="0.00" textLength="74.26" lengthAdjust="spacingAndGlyphs">Net</tspan> <tspan x="-1870.37" y="0.00" textLength="254.38" lengthAdjust="spacingAndGlyphs">Dispositions</tspan> <tspan x="-1601.68" y="0.00" textLength="71.96" lengthAdjust="spacingAndGlyphs">[PJ]</tspan></text>
</svg></body></html>
